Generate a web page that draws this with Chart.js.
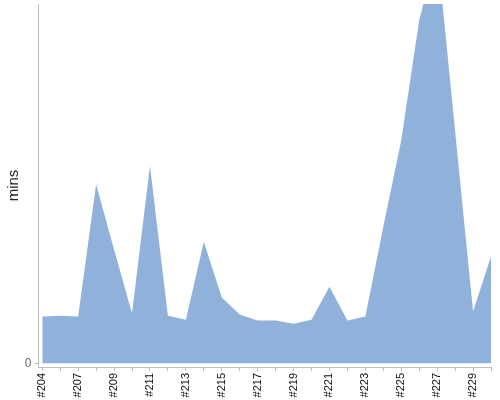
<!DOCTYPE html>
<html>
<head>
<meta charset="utf-8">
<script src="https://cdn.jsdelivr.net/npm/chart.js@4"></script>
<style>
html,body{margin:0;padding:0;background:#fff;}
#wrap{width:500px;height:400px;}
</style>
</head>
<body>
<div id="wrap"><canvas id="c" width="500" height="400"></canvas></div>
<script>
const builds = ["#204","#206","#207","#208","#209","#210","#211","#212","#213","#214","#215","#216","#217","#218","#219","#220","#221","#222","#223","#224","#225","#226","#227","#228","#229","#230"];
const mins = [13.0,13.2,13.0,49.8,31.7,13.9,55.0,13.2,12.1,33.8,18.3,13.6,11.9,11.9,11.0,12.1,21.3,11.9,13.0,38.0,62.1,95.5,115,64.7,14.4,29.7];
const yTicks = [0];
const yTitle = "mins";

const axisColor = "rgb(190,190,190)";
const points = mins.map((v, i) => ({x: i, y: v}));

new Chart(document.getElementById("c"), {
  type: "line",
  data: {
    datasets: [{
      data: points,
      fill: "origin",
      backgroundColor: "rgb(144,178,218)",
      borderWidth: 0,
      borderColor: "rgba(0,0,0,0)",
      pointRadius: 0,
      tension: 0
    }]
  },
  options: {
    responsive: false,
    animation: false,
    layout: {padding: {top: 4, right: 9, left: 0, bottom: 0}},
    plugins: {legend: {display: false}, tooltip: {enabled: false}},
    scales: {
      x: {
        type: "linear",
        min: -0.21,
        max: builds.length - 1,
        afterBuildTicks: s => { s.ticks = builds.map((b, i) => ({value: i})); },
        afterFit: s => { s.height = 33; s.paddingLeft = 0; s.paddingRight = 0; },
        border: {display: true, color: axisColor, width: 1},
        grid: {display: true, drawOnChartArea: false, drawTicks: true, tickLength: 4, color: axisColor},
        ticks: {
          autoSkip: false,
          minRotation: 90,
          maxRotation: 90,
          padding: 2,
          color: "#111",
          font: {family: "Liberation Sans", size: 11},
          callback: (v) => (Number.isInteger(v) && v % 2 === 0) ? builds[v] : ""
        }
      },
      y: {
        type: "linear",
        min: -1.03,
        max: 100,
        afterBuildTicks: s => { s.ticks = yTicks.map(v => ({value: v})); },
        afterFit: s => { s.width = 38.5; s.paddingTop = 0; s.paddingBottom = 0; },
        border: {display: true, color: axisColor, width: 1},
        grid: {display: true, drawOnChartArea: false, drawTicks: true, tickLength: 4, color: axisColor},
        ticks: {
          padding: 3,
          color: "#666",
          font: {family: "Liberation Sans", size: 12}
        },
        title: {
          display: true,
          text: yTitle,
          color: "#222",
          padding: {top: 5, bottom: 0},
          font: {family: "Liberation Sans", size: 15}
        }
      }
    }
  }
});
</script>
</body>
</html>
